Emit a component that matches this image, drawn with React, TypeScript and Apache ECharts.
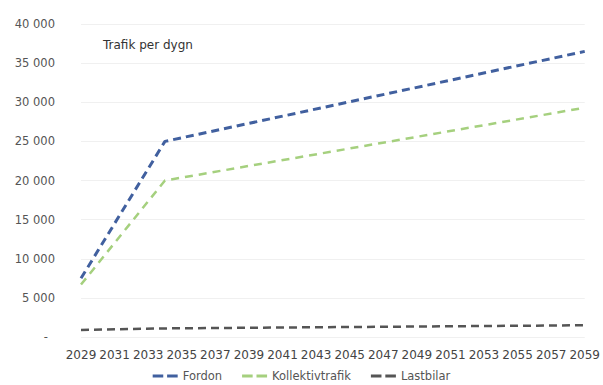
import React, { useEffect, useRef } from "react";
import * as echarts from "echarts";

const years = [
  "2029", "2030", "2031", "2032", "2033", "2034", "2035", "2036", "2037", "2038",
  "2039", "2040", "2041", "2042", "2043", "2044", "2045", "2046", "2047", "2048",
  "2049", "2050", "2051", "2052", "2053", "2054", "2055", "2056", "2057", "2058", "2059",
];
const keyYears = ["2029", "2034", "2059"];
const fordon = [7500, 25000, 36500];
const kollektivtrafik = [6700, 20000, 29300];
const lastbilar = [900, 1100, 1500];

const toPairs = (vals: number[]) => keyYears.map((y, i) => [y, vals[i]]);

const fmt = (v: number) =>
  v === 0 ? "{z|-}" : String(v).replace(/\B(?=(\d{3})+(?!\d))/g, " ");

const dashIcon = "path://M0,0 H11 V3 H0 Z M15,0 H26 V3 H15 Z";

export default function App() {
  const ref = useRef<HTMLDivElement>(null);
  useEffect(() => {
    if (!ref.current) return;
    const chart = echarts.init(ref.current, null, { renderer: "svg" });
    const font = "DejaVu Sans, sans-serif";
    chart.setOption({
      animation: false,
      backgroundColor: "#ffffff",
      textStyle: { fontFamily: font },
      graphic: [
        {
          type: "text",
          left: 103,
          top: 39,
          style: { text: "Trafik per dygn", fontSize: 12, fill: "#333", fontFamily: font },
        },
      ],
      legend: {
        bottom: -2,
        left: "center",
        itemWidth: 25,
        itemHeight: 3,
        itemGap: 20,
        icon: dashIcon,
        textStyle: { fontSize: 11.5, color: "#555", fontFamily: font },
        data: ["Fordon", "Kollektivtrafik", "Lastbilar"],
      },
      grid: { left: 81, right: 15, top: 24, bottom: 48 },
      xAxis: {
        type: "category",
        data: years,
        boundaryGap: false,
        axisLine: { show: false },
        axisTick: { show: false },
        axisLabel: { interval: 1, fontSize: 12, color: "#444", margin: 12, fontFamily: font },
        splitLine: { show: false },
      },
      yAxis: {
        type: "value",
        min: 0,
        max: 40000,
        interval: 5000,
        axisLine: { show: false },
        axisTick: { show: false },
        axisLabel: {
          fontSize: 11.5,
          color: "#555",
          margin: 26,
          formatter: fmt,
          fontFamily: font,
          rich: { z: { fontSize: 11.5, color: "#555", padding: [0, 7, 0, 0], fontFamily: font } },
        },
        splitLine: { lineStyle: { color: "#f0f0f0", width: 1 } },
      },
      series: [
        {
          name: "Fordon",
          type: "line",
          data: toPairs(fordon),
          symbol: "none",
          color: "#41609f",
          lineStyle: { color: "#41609f", width: 3, type: [8, 5] },
        },
        {
          name: "Kollektivtrafik",
          type: "line",
          data: toPairs(kollektivtrafik),
          symbol: "none",
          color: "#a5d07e",
          lineStyle: { color: "#a5d07e", width: 2.5, type: [8, 6] },
        },
        {
          name: "Lastbilar",
          type: "line",
          data: toPairs(lastbilar),
          symbol: "none",
          color: "#555555",
          lineStyle: { color: "#555555", width: 2.5, type: [8, 5] },
        },
      ],
    });
    return () => chart.dispose();
  }, []);
  return (
    <div
      ref={ref}
      style={{ position: "fixed", left: 0, top: 0, width: 603, height: 385 }}
    />
  );
}
